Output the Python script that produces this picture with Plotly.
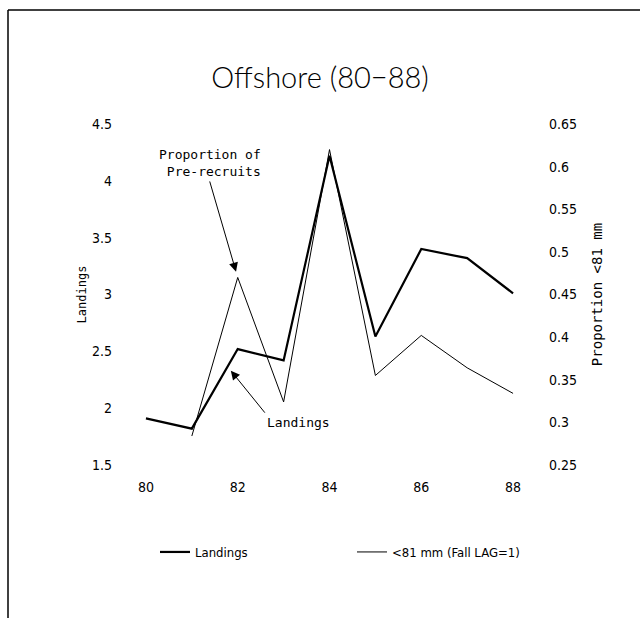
import plotly.graph_objects as go

# Offshore series, 1980-1988
years = [80, 81, 82, 83, 84, 85, 86, 87, 88]
landings = [1.91, 1.82, 2.52, 2.42, 4.22, 2.63, 3.40, 3.32, 3.01]

# proportion under 81 mm (fall, lag = 1) starts in 81
prop_years = [81, 82, 83, 84, 85, 86, 87, 88]
prop_under81 = [0.284, 0.470, 0.324, 0.620, 0.355, 0.402, 0.364, 0.334]

left_ticks = [1.5, 2, 2.5, 3, 3.5, 4, 4.5]
right_ticks = [0.25, 0.3, 0.35, 0.4, 0.45, 0.5, 0.55, 0.6, 0.65]
x_ticks = [80, 82, 84, 86, 88]

FONT = "DejaVu Sans Condensed, DejaVu Sans, sans-serif"
MONO = "DejaVu Sans Mono, monospace"

PW, PH = 413, 341  # plot area size in pixels

fig = go.Figure()
fig.add_trace(go.Scatter(x=years, y=landings, mode="lines", name="Landings",
                         line=dict(color="black", width=2.2), yaxis="y"))
fig.add_trace(go.Scatter(x=prop_years, y=prop_under81, mode="lines",
                         name="<81 mm (Fall LAG=1)",
                         line=dict(color="black", width=1), yaxis="y2"))

fig.update_layout(
    width=640, height=618,
    paper_bgcolor="white", plot_bgcolor="white",
    margin=dict(l=123, r=104, t=124, b=153),
    showlegend=True,
    legend=dict(orientation="h", xref="container", x=155 / 640, xanchor="left",
                yref="container", y=1 - 552 / 618, yanchor="middle",
                font=dict(family=FONT, size=13, color="black"),
                itemwidth=30, entrywidth=152, entrywidthmode="pixels",
                bgcolor="rgba(0,0,0,0)"),
    title=dict(text="Offshore (80\u221288)", x=0.5, xanchor="center",
               y=1 - 78 / 618, yref="container", yanchor="middle",
               font=dict(family="Lato, DejaVu Sans, sans-serif", size=29,
                         weight=300, color="black")),
    xaxis=dict(range=[79.5, 88.5], tickvals=x_ticks, ticktext=[str(v) for v in x_ticks],
               showgrid=False, zeroline=False, showline=False, ticks="",
               ticklabelstandoff=12,
               tickfont=dict(family=FONT, size=14, color="black")),
    yaxis=dict(range=[1.5, 4.5], tickvals=left_ticks,
               ticktext=[f"{v:g}" for v in left_ticks],
               showgrid=False, zeroline=False, showline=False, ticks="",
               ticklabelstandoff=10,
               title=dict(text="Landings", standoff=2,
                          font=dict(family=MONO, size=12, color="black")),
               tickfont=dict(family=FONT, size=14, color="black")),
    yaxis2=dict(range=[0.25, 0.65], tickvals=right_ticks,
                ticktext=[f"{v:g}" for v in right_ticks],
                overlaying="y", side="right",
                showgrid=False, zeroline=False, showline=False, ticks="",
                ticklabelstandoff=12,
                title=dict(text="Proportion <81 mm", standoff=16,
                           font=dict(family=MONO, size=14, color="black")),
                tickfont=dict(family=FONT, size=14, color="black")),
)

# callouts pointing at each series
fig.add_annotation(x=82, y=0.470, xref="x", yref="y2",
                   text="Proportion of<br> Pre-recruits", showarrow=True,
                   ax=-28, ay=-96, arrowhead=2, arrowsize=1.8, arrowwidth=1,
                   arrowcolor="black", standoff=6,
                   align="left", yanchor="bottom",
                   font=dict(family=MONO, size=13, color="black"))
fig.add_annotation(x=81.85, y=2.33, xref="x", yref="y",
                   text="Landings", showarrow=True,
                   ax=34, ay=42, arrowhead=2, arrowsize=1.8, arrowwidth=1,
                   arrowcolor="black",
                   xanchor="left", yanchor="top",
                   font=dict(family=MONO, size=13, color="black"))

# page frame along the top and left edges
fig.add_shape(type="line", xref="paper", yref="paper",
              x0=-115 / PW, x1=(640 - 123) / PW, y0=1 + 114 / PH, y1=1 + 114 / PH,
              line=dict(color="black", width=1.5))
fig.add_shape(type="line", xref="paper", yref="paper",
              x0=-115 / PW, x1=-115 / PW, y0=1 + 114 / PH, y1=-153 / PH,
              line=dict(color="black", width=1.5))

fig.write_html("out.html")
